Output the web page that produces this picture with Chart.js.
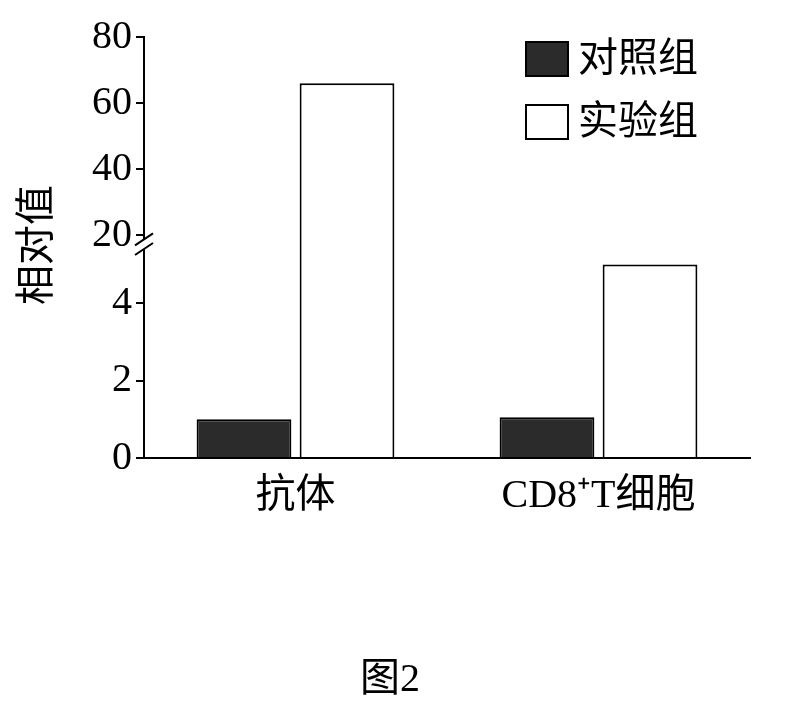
<!DOCTYPE html>
<html><head><meta charset="utf-8">
<script src="https://cdn.jsdelivr.net/npm/chart.js@4"></script>
<style>body{margin:0;background:#fff}#w{width:786px;height:714px}</style>
</head><body><div id="w"><canvas id="c"></canvas></div>
<script>
const categories = ['抗体', 'CD8⁺T细胞'];
const controlValues = [1.0, 1.05];
const experimentValues = [66, 5.0];
const tickValues = [0, 2, 4, 20, 40, 60, 80];
const seriesNames = ['对照组', '实验组'];

const LOW_MAX = 5.76, BREAK_V = 20, HIGH_RATIO = 0.0853;
function toDisp(v){ return v <= 5.3 ? v : LOW_MAX + (v - BREAK_V) * HIGH_RATIO; }
const FONT = '"Liberation Serif","Noto Sans CJK SC",serif';

const extras = {
  id: 'extras',
  afterDraw(chart){
    const ctx = chart.ctx, y = chart.scales.y, a = chart.chartArea;
    const x0 = a.left;
    const yb1 = y.getPixelForValue(5.4), yb2 = y.getPixelForValue(5.65);
    ctx.save();
    ctx.fillStyle = '#fff';
    ctx.fillRect(x0 - 4, yb2, 8, yb1 - yb2);
    ctx.strokeStyle = '#000'; ctx.lineWidth = 2;
    [yb1, yb2].forEach(yy => { ctx.beginPath(); ctx.moveTo(x0 - 9, yy + 6); ctx.lineTo(x0 + 9, yy - 6); ctx.stroke(); });
    ctx.font = '40px ' + FONT; ctx.textBaseline = 'middle'; ctx.fillStyle = '#000';
    const items = [['#2b2b2b', 60], ['#ffffff', 123]];
    items.forEach((it, i) => {
      ctx.fillStyle = it[0]; ctx.fillRect(526, it[1] - 18, 42, 34);
      ctx.strokeStyle = '#000'; ctx.lineWidth = 2; ctx.strokeRect(526, it[1] - 18, 42, 34);
      ctx.fillStyle = '#000'; ctx.fillText(seriesNames[i], 578, it[1]);
    });
    ctx.save(); ctx.translate(38, 245); ctx.rotate(-Math.PI/2);
    ctx.textAlign = 'center'; ctx.fillText('相对值', 0, 0); ctx.restore();
    ctx.textAlign = 'center'; ctx.fillText('图2', 390, 680);
    ctx.restore();
  }
};

new Chart(document.getElementById('c'), {
  type: 'bar',
  data: {
    labels: categories,
    datasets: [
      { label: seriesNames[0], data: controlValues.map(toDisp), backgroundColor: '#2b2b2b', borderColor: '#000', borderWidth: 2 },
      { label: seriesNames[1], data: experimentValues.map(toDisp), backgroundColor: '#fff', borderColor: '#000', borderWidth: 2 }
    ]
  },
  options: {
    responsive: true, maintainAspectRatio: false, animation: false,
    layout: { padding: { top: 37, right: 36, bottom: 180, left: 88 } },
    categoryPercentage: 0.68, barPercentage: 0.92,
    plugins: { legend: { display: false }, tooltip: { enabled: false } },
    scales: {
      x: {
        grid: { display: false, drawTicks: false },
        border: { color: '#000', width: 2 },
        ticks: { color: '#000', font: { size: 40, family: FONT }, padding: 14 }
      },
      y: {
        min: 0, max: toDisp(80),
        border: { color: '#000', width: 2 },
        afterBuildTicks(s){ s.ticks = tickValues.map(v => ({ value: toDisp(v) })); },
        ticks: { color: '#000', font: { size: 40, family: FONT }, padding: 4,
          callback(val){ const i = tickValues.findIndex(t => Math.abs(toDisp(t) - val) < 1e-6); return i >= 0 ? String(tickValues[i]) : ''; } },
        grid: { display: true, drawOnChartArea: false, drawTicks: true, tickLength: 8, color: '#000', lineWidth: 2 }
      }
    }
  },
  plugins: [extras]
});
</script></body></html>
